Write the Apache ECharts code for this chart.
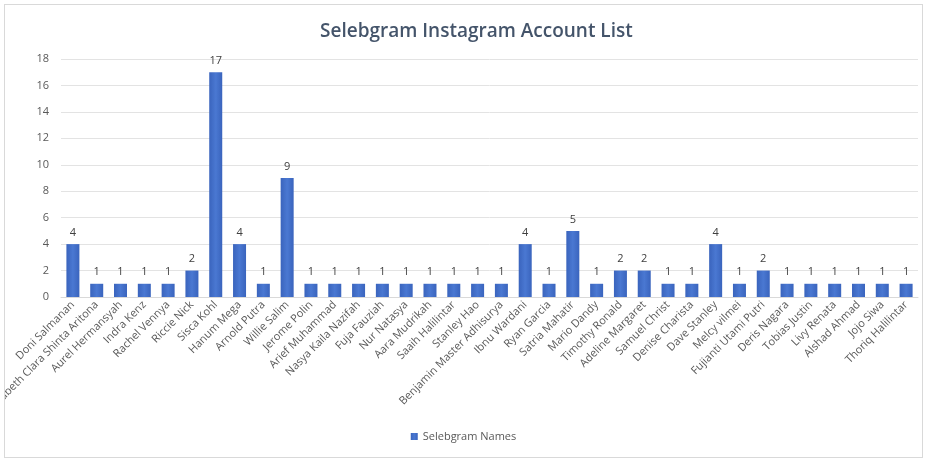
<!DOCTYPE html>
<html>
<head>
<meta charset="utf-8">
<script src="https://cdn.jsdelivr.net/npm/echarts@6/dist/echarts.min.js"></script>
<style>
html,body{margin:0;padding:0;background:#fff;}
#frame{position:absolute;left:4px;top:4px;width:917px;height:452px;border:1px solid #d9d9d9;overflow:hidden;}
#chart{position:absolute;left:0;top:0;width:917px;height:452px;}
</style>
</head>
<body>
<div id="frame"><div id="chart"></div></div>
<script>
const categories = ["Doni Salmanan","Elisabeth Clara Shinta Aritona","Aurel Hermansyah","Indra Kenz","Rachel Vennya","Riccie Nick","Sisca Kohl","Hanum Mega","Arnold Putra","Willie Salim","Jerome Polin","Arief Muhammad","Nasya Kaila Nazifah","Fuja Fauziah","Nur Natasya","Aara Mudrikah","Saaih Halilintar","Stanley Hao","Benjamin Master Adhisurya","Ibnu Wardani","Ryan Garcia","Satria Mahatir","Mario Dandy","Timothy Ronald","Adeline Margaret","Samuel Christ","Denise Charista","Dave Stanley","Melcy vilmei","Fujianti Utami Putri","Deris Nagara","Tobias Justin","Livy Renata","Alshad Ahmad","Jojo Siwa","Thoriq Halilintar"];
const values = [4,1,1,1,1,2,17,4,1,9,1,1,1,1,1,1,1,1,1,4,1,5,1,2,2,1,1,4,1,2,1,1,1,1,1,1];
const seriesName = "Selebgram Names";
const titleText = "Selebgram Instagram Account List";

const chart = echarts.init(document.getElementById('chart'));
const font = "'Open Sans', sans-serif";
chart.setOption({
  animation: false,
  textStyle: {fontFamily: font},
  title: {
    text: titleText, left: 310, top: 12,
    textStyle: {fontFamily: font, fontSize: 19, fontWeight: 600, color: '#44546a'}
  },
  legend: {
    bottom: 10, left: 'center', itemWidth: 7, itemHeight: 7, icon: 'rect', itemGap: 4,
    textStyle: {fontFamily: font, fontSize: 11, color: '#595959'},
    data: [seriesName]
  },
  grid: {left: 56, right: 4, top: 54, bottom: 160, outerBoundsMode: 'none', containLabel: false},
  xAxis: {
    type: 'category', data: categories,
    axisTick: {show: false},
    axisLine: {lineStyle: {color: '#d9d9d9'}},
    axisLabel: {interval: 0, rotate: 45, fontSize: 11, color: '#595959', margin: 6, fontFamily: font}
  },
  yAxis: {
    type: 'value', min: 0, max: 18, interval: 2,
    axisLine: {show: false}, axisTick: {show: false},
    splitLine: {lineStyle: {color: '#e3e3e3'}},
    axisLabel: {fontSize: 11, color: '#595959', margin: 12, fontFamily: font}
  },
  series: [{
    name: seriesName, type: 'bar', data: values, barWidth: 13,
    itemStyle: {color: new echarts.graphic.LinearGradient(0,0,1,0,[
      {offset:0, color:'#3a64bd'},{offset:0.5, color:'#4a78d2'},{offset:1, color:'#3a64bd'}])},
    label: {show: true, position: 'top', fontSize: 11, color: '#404040', distance: 6, fontFamily: font}
  }]
});
</script>
</body>
</html>
